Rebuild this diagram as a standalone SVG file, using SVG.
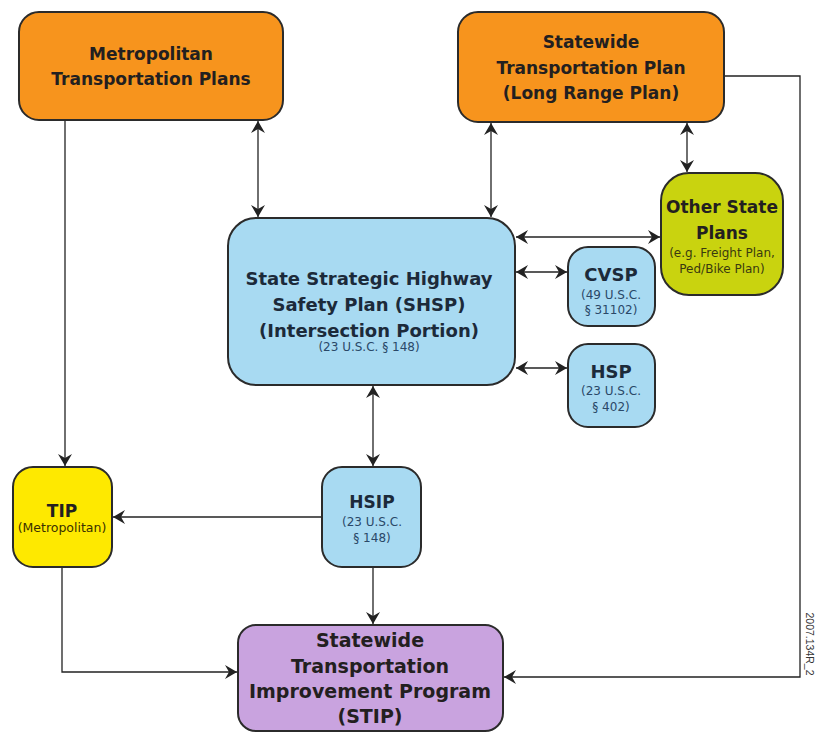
<svg xmlns="http://www.w3.org/2000/svg" width="815" height="733" viewBox="0 0 815 733">
<defs>
<marker id="ah" viewBox="0 0 12 14" refX="12" refY="7" markerWidth="12" markerHeight="14" markerUnits="userSpaceOnUse" orient="auto-start-reverse">
<path d="M0,0 L12,7 L0,14 L4,7 z" fill="#222"/>
</marker>
<style>
.box{stroke:#2b2b2b;stroke-width:2}
.org{fill:#F7941D}
.grn{fill:#C9D30F}
.blu{fill:#A8DAF2}
.yel{fill:#FEE900}
.pur{fill:#C9A3DF}
.t{font-family:"DejaVu Sans","Liberation Sans",sans-serif;font-weight:bold;text-anchor:middle;fill:#231F20}
.tb{font-family:"DejaVu Sans","Liberation Sans",sans-serif;font-weight:bold;text-anchor:middle;fill:#1c2a3a}
.s{font-family:"DejaVu Sans","Liberation Sans",sans-serif;font-size:12px;text-anchor:middle;fill:#2a4868}
.sg{font-family:"DejaVu Sans","Liberation Sans",sans-serif;font-size:12px;text-anchor:middle;fill:#3a3a10}
.c{fill:none;stroke:#222;stroke-width:1.3}
.one{marker-end:url(#ah)}
.two{marker-start:url(#ah);marker-end:url(#ah)}
</style>
</defs>

<g id="connectors">
<path class="c one" d="M65,120 V466"/>
<path class="c two" d="M258,121 V217"/>
<path class="c two" d="M491,123 V217"/>
<path class="c two" d="M687,123 V172"/>
<path class="c two" d="M516,237 H660"/>
<path class="c two" d="M516,272 H567"/>
<path class="c two" d="M516,368 H567"/>
<path class="c two" d="M373,386 V466"/>
<path class="c one" d="M322,517 H113"/>
<path class="c one" d="M373,568 V624"/>
<path class="c one" d="M62,568 V672 H237"/>
<path class="c one" d="M725,76 H800 V677 H504"/>
</g>

<g id="metro">
<rect class="box org" x="19" y="12" width="264" height="108" rx="20"/>
<text class="t" font-size="17" x="151" y="60">Metropolitan</text>
<text class="t" font-size="17" x="151" y="85">Transportation Plans</text>
</g>

<g id="swplan">
<rect class="box org" x="458" y="12" width="266" height="110" rx="20"/>
<text class="t" font-size="17" x="591" y="48">Statewide</text>
<text class="t" font-size="17" x="591" y="74">Transportation Plan</text>
<text class="t" font-size="17" x="591" y="99">(Long Range Plan)</text>
</g>

<g id="other">
<rect class="box grn" x="661" y="173" width="122" height="122" rx="28"/>
<text class="t" font-size="17" x="722" y="213">Other State</text>
<text class="t" font-size="17" x="722" y="239">Plans</text>
<text class="sg" x="722" y="257">(e.g. Freight Plan,</text>
<text class="sg" x="722" y="273">Ped/Bike Plan)</text>
</g>

<g id="shsp">
<rect class="box blu" x="228" y="218" width="287" height="167" rx="28"/>
<text class="tb" font-size="18" x="369" y="285">State Strategic Highway</text>
<text class="tb" font-size="18" x="369" y="311">Safety Plan (SHSP)</text>
<text class="tb" font-size="18" x="369" y="337">(Intersection Portion)</text>
<text class="s" x="369" y="351">(23 U.S.C. § 148)</text>
</g>

<g id="cvsp">
<rect class="box blu" x="568" y="247" width="87" height="79" rx="20"/>
<text class="tb" font-size="18" x="611" y="281">CVSP</text>
<text class="s" x="611" y="299">(49 U.S.C.</text>
<text class="s" x="611" y="314">§ 31102)</text>
</g>

<g id="hsp">
<rect class="box blu" x="568" y="344" width="87" height="83" rx="20"/>
<text class="tb" font-size="18" x="611" y="378">HSP</text>
<text class="s" x="611" y="395">(23 U.S.C.</text>
<text class="s" x="611" y="411">§ 402)</text>
</g>

<g id="hsip">
<rect class="box blu" x="322" y="467" width="99" height="100" rx="20"/>
<text class="tb" font-size="17" x="372" y="508">HSIP</text>
<text class="s" x="372" y="526">(23 U.S.C.</text>
<text class="s" x="372" y="542">§ 148)</text>
</g>

<g id="tip">
<rect class="box yel" x="13" y="467" width="99" height="100" rx="20"/>
<text class="t" font-size="17" x="62" y="517">TIP</text>
<text class="s" x="62" y="532" style="fill:#3a3000;font-size:12.5px">(Metropolitan)</text>
</g>

<g id="stip">
<rect class="box pur" x="238" y="625" width="265" height="106" rx="18"/>
<text class="t" font-size="19" x="370" y="647">Statewide</text>
<text class="t" font-size="19" x="370" y="673">Transportation</text>
<text class="t" font-size="19" x="370" y="698">Improvement Program</text>
<text class="t" font-size="19" x="370" y="723">(STIP)</text>
</g>

<text transform="translate(805.5,644) rotate(90)" font-family="Liberation Sans, sans-serif" font-size="10.5" text-anchor="middle" fill="#333">2007.134R_2</text>
</svg>
